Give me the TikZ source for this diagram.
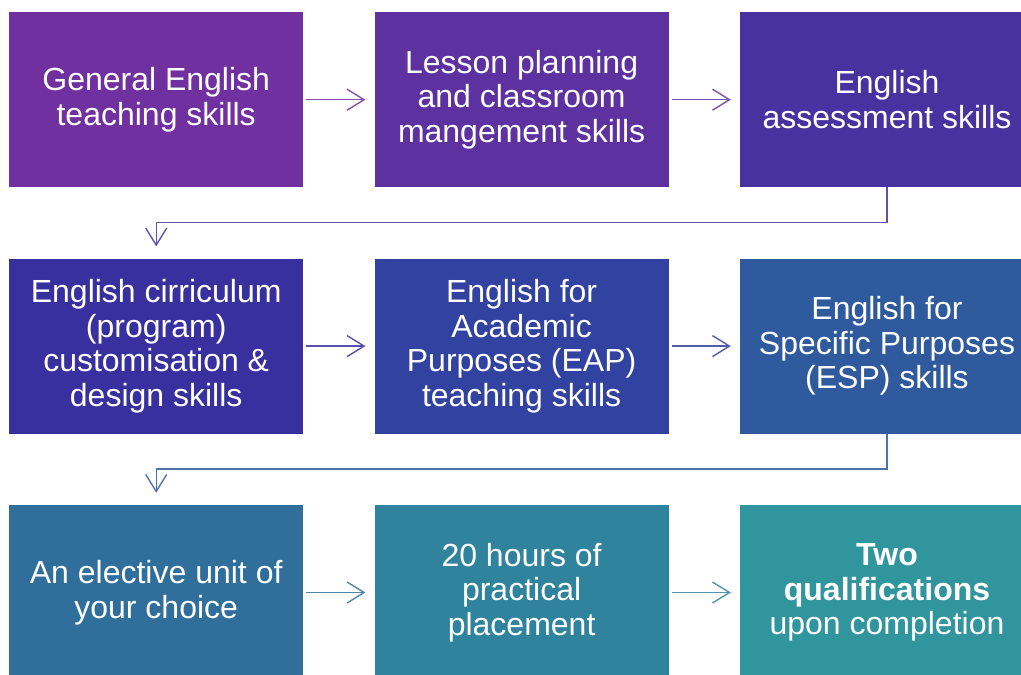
\documentclass[tikz,border=0pt]{standalone}
\usepackage{fontspec}
\setmainfont{Liberation Sans}
\usetikzlibrary{positioning,arrows.meta}

\definecolor{cA}{HTML}{7030A0}
\definecolor{cB}{HTML}{5D32A0}
\definecolor{cC}{HTML}{4832A0}
\definecolor{cD}{HTML}{38309E}
\definecolor{cE}{HTML}{3242A0}
\definecolor{cF}{HTML}{2F5A9D}
\definecolor{cG}{HTML}{306E9C}
\definecolor{cH}{HTML}{30839D}
\definecolor{cI}{HTML}{31959E}

\begin{document}
\begin{tikzpicture}[x=1pt,y=1pt,node distance=71pt and 71pt,
   skill/.style={rectangle,fill=#1,text=white,minimum width=294pt,minimum height=175pt,
     inner sep=0pt,align=center,font=\fontsize{32}{34.5}\selectfont},
   flow/.style={draw=#1,line width=1.4pt,-{Straight Barb[length=17pt,width=21pt,line width=1.4pt]}},
   across/.style={flow=#1,shorten <=3pt,shorten >=9pt}]
  \useasboundingbox (0,0) rectangle (1021,-675);
  % first row
  \node[skill=cA,anchor=north west] (general) at (9,-12) {General English\\teaching skills};
  \node[skill=cB,right=of general] (lesson) {Lesson planning\\and classroom\\mangement skills};
  \node[skill=cC,right=of lesson] (assess) {English\\assessment skills};
  % second row
  \node[skill=cD,below=of general] (curric) {English cirriculum\\(program)\\customisation \&\\design skills};
  \node[skill=cE,right=of curric] (eap) {English for\\Academic\\Purposes (EAP)\\teaching skills};
  \node[skill=cF,right=of eap] (esp) {English for\\Specific Purposes\\(ESP) skills};
  % third row
  \node[skill=cG,below=of curric] (elective) {An elective unit of\\your choice};
  \node[skill=cH,right=of elective] (hours) {20 hours of\\practical\\placement};
  \node[skill=cI,right=of hours] (quals) {\textbf{Two}\\\textbf{qualifications}\\upon completion};
  % connectors
  \draw[across=cA!85!white] (general) -- (lesson);
  \draw[across=cB!85!white] (lesson) -- (assess);
  \draw[flow=cC!85!white] (assess.south) -- ++(0,-35) -| ([yshift=12pt]curric.north);
  \draw[across=cD!85!white] (curric) -- (eap);
  \draw[across=cE!85!white] (eap) -- (esp);
  \draw[flow=cF!85!white] (esp.south) -- ++(0,-35) -| ([yshift=12pt]elective.north);
  \draw[across=cG!85!white] (elective) -- (hours);
  \draw[across=cH!85!white] (hours) -- (quals);
\end{tikzpicture}
\end{document}
